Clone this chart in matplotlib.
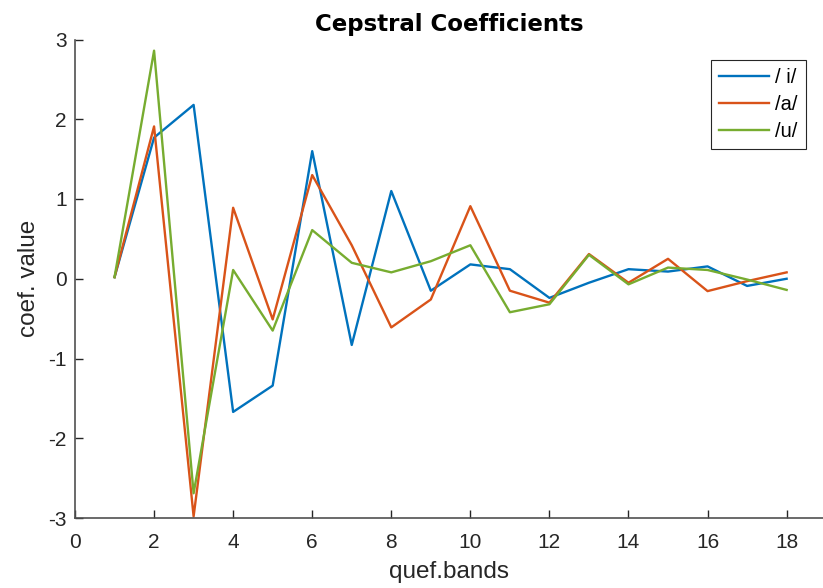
import matplotlib
matplotlib.use("Agg")
import matplotlib.pyplot as plt

bands = list(range(1, 19))
coef_i = [0.02, 1.77, 2.18, -1.67, -1.34, 1.60, -0.83, 1.10, -0.15, 0.18, 0.12, -0.24,
          -0.05, 0.12, 0.09, 0.155, -0.09, 0.0]
coef_a = [0.02, 1.91, -2.98, 0.89, -0.51, 1.30, 0.42, -0.61, -0.26, 0.91, -0.15, -0.30,
          0.31, -0.05, 0.25, -0.155, -0.03, 0.08]
coef_u = [0.02, 2.86, -2.69, 0.11, -0.65, 0.61, 0.20, 0.08, 0.22, 0.42, -0.42, -0.32,
          0.30, -0.07, 0.14, 0.11, -0.01, -0.14]
labels = ['/ i/', '/a/', '/u/']
colors = ['#0072BD', '#D95319', '#77AC30']
xticks = list(range(0, 19, 2))
yticks = [-3, -2, -1, 0, 1, 2, 3]

plt.rcParams['font.family'] = ['Liberation Sans', 'DejaVu Sans']
plt.rcParams['axes.unicode_minus'] = False
fig = plt.figure(figsize=(8.23, 5.88), dpi=100)
ax = fig.add_axes([75/823, 1-518/588, 1-75/823, (518-39.5)/588])

for ys, lab, c in zip([coef_i, coef_a, coef_u], labels, colors):
    ax.plot(bands, ys, color=c, lw=1.7, label=lab)

ax.set_xlim(0, 18.92)
ax.set_ylim(-3, 3)
ax.set_xticks(xticks)
ax.set_yticks(yticks)
ax.tick_params(direction='in', length=6, width=1, colors='#262626', labelsize=15)
ax.tick_params(axis='x', pad=11)
ax.tick_params(axis='y', pad=6)
for s in ['top', 'right']:
    ax.spines[s].set_visible(False)
for s in ['left', 'bottom']:
    ax.spines[s].set_color('#505050')
    ax.spines[s].set_linewidth(1.2)

ax.set_xlabel('quef.bands', fontsize=17.5, color='#262626', labelpad=6)
ax.set_ylabel('coef. value', fontsize=17.5, color='#262626', labelpad=6)
ax.set_title('Cepstral Coefficients', fontsize=16.5, fontweight='bold',
             family='DejaVu Sans', pad=6)

leg = ax.legend(loc='upper right', bbox_to_anchor=(0.977, 0.958), fontsize=14.5,
                handlelength=2.5, frameon=True, fancybox=False, framealpha=1,
                borderpad=0.4, labelspacing=0.4, handletextpad=0.3,
                borderaxespad=0)
leg.get_frame().set_edgecolor('#262626')
leg.get_frame().set_linewidth(0.8)

fig.savefig('out.png', dpi=100)
